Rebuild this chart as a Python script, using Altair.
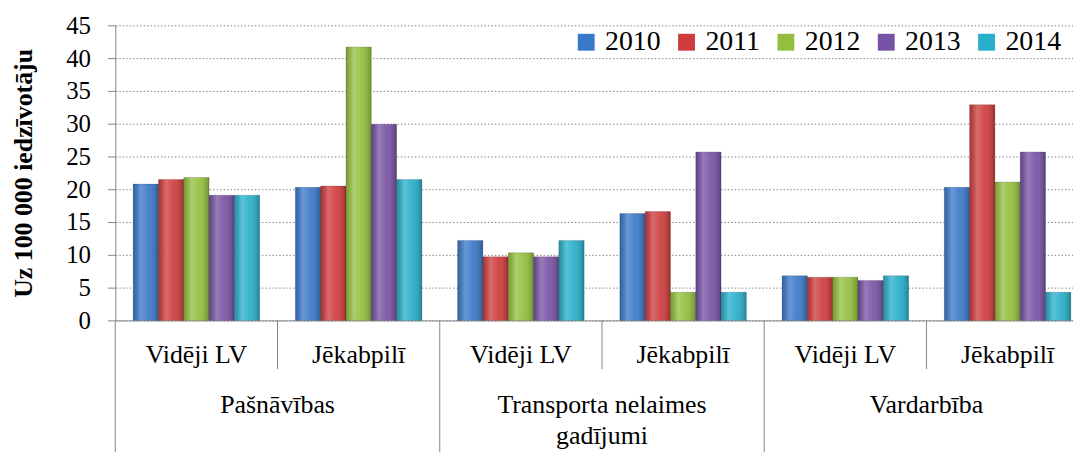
import altair as alt
import pandas as pd

# ---------------- data ----------------
groups = ["Pašnāvības", "Transporta nelaimes gadījumi", "Vardarbība"]
group_labels = ["Pašnāvības", "Transporta nelaimes\ngadījumi", "Vardarbība"]
subgroups = ["Vidēji LV", "Jēkabpilī"]
years = ["2010", "2011", "2012", "2013", "2014"]

pasnavibas_lv = [20.8, 21.5, 21.8, 19.1, 19.1]
pasnavibas_jek = [20.3, 20.5, 41.7, 29.9, 21.5]
transports_lv = [12.2, 9.7, 10.3, 9.7, 12.2]
transports_jek = [16.3, 16.6, 4.3, 25.7, 4.3]
vardarbiba_lv = [6.8, 6.6, 6.6, 6.1, 6.8]
vardarbiba_jek = [20.3, 32.9, 21.1, 25.7, 4.3]

series = [
    [pasnavibas_lv, pasnavibas_jek],
    [transports_lv, transports_jek],
    [vardarbiba_lv, vardarbiba_jek],
]

colors = ["#3a78c8", "#cf3c3c", "#94bf3e", "#7852a4", "#28afca"]

rows = []
for gi, g in enumerate(groups):
    for si, s in enumerate(subgroups):
        for k, y in enumerate(years):
            rows.append({"group": g, "sub": s, "slot": gi * 2 + si, "k": k,
                         "year": y, "value": series[gi][si][k]})
df = pd.DataFrame(rows)

n_slots = len(groups) * len(subgroups)
sep_df = pd.DataFrame({"b": list(range(n_slots)),
                       "long": [i % 2 == 0 for i in range(n_slots)]})
sub_df = pd.DataFrame({"c": [i + 0.5 for i in range(n_slots)],
                       "label": [subgroups[i % 2] for i in range(n_slots)]})
grp_df = pd.DataFrame({"c": [gi * 2 + 1 for gi in range(len(groups))],
                       "label": group_labels})

# ---------------- layout ----------------
W, H = 964, 297
SLOT_PX = 163.3
XMAX = W / SLOT_PX
PAD, BW = 0.11, 0.156
GRAY = "#868686"
FONT = "Liberation Serif, Times New Roman, serif"

xscale = alt.Scale(domain=[0, XMAX], nice=False, zero=False)
xaxis = alt.Axis(labels=False, ticks=False, grid=False, domain=True,
                 domainColor=GRAY, domainWidth=1, title=None)
yscale = alt.Scale(domain=[0, 45], nice=False)
yaxis = alt.Axis(values=list(range(0, 46, 5)), grid=True, gridColor=GRAY,
                 gridDash=[1.5, 2], gridWidth=1, domainColor=GRAY,
                 tickColor=GRAY, tickSize=8, labelPadding=17,
                 labelFont=FONT, labelFontSize=25, labelColor="black",
                 title="Uz 100 000 iedzīvotāju", titleFont=FONT,
                 titleFontSize=26, titleFontWeight="bold", titleColor="black",
                 titleAngle=-90, titleX=-92, titleY=H / 2,
                 titleAlign="center", titleBaseline="middle")

base = alt.Chart(df).transform_calculate(
    xs=f"datum.slot + {PAD} + datum.k * {BW}",
    xe=f"datum.slot + {PAD} + (datum.k + 1) * {BW}",
)

bars = base.mark_rect(stroke="rgba(0,0,0,0.25)", strokeWidth=0.6).encode(
    x=alt.X("xs:Q", scale=xscale, axis=xaxis),
    x2="xe:Q",
    y=alt.Y("value:Q", scale=yscale, axis=yaxis),
    y2=alt.datum(0),
    color=alt.Color("year:N", scale=alt.Scale(domain=years, range=colors),
                    legend=alt.Legend(title=None, orient="none", legendX=460,
                                      legendY=3, direction="horizontal",
                                      symbolType="square", symbolSize=289,
                                      symbolStrokeWidth=0, labelFont=FONT,
                                      labelFontSize=28, labelColor="black",
                                      labelOffset=5, columnPadding=12,
                                      padding=0)),
)

shade = base.mark_rect(
    fill=alt.Gradient(
        gradient="linear", x1=0, x2=1, y1=0, y2=0,
        stops=[
            alt.GradientStop(color="rgba(0,0,0,0.18)", offset=0),
            alt.GradientStop(color="rgba(255,255,255,0.24)", offset=0.3),
            alt.GradientStop(color="rgba(255,255,255,0.08)", offset=0.6),
            alt.GradientStop(color="rgba(0,0,0,0.25)", offset=1),
        ],
    )
).encode(
    x=alt.X("xs:Q", scale=xscale, axis=xaxis),
    x2="xe:Q",
    y=alt.Y("value:Q", scale=yscale, axis=yaxis),
    y2=alt.datum(0),
)

short_sep = alt.Chart(sep_df).transform_filter("!datum.long").mark_rule(
    color=GRAY, strokeWidth=1).encode(
    x=alt.X("b:Q", scale=xscale, axis=xaxis),
    y=alt.value(H), y2=alt.value(H + 49))

long_sep = alt.Chart(sep_df).transform_filter("datum.long").mark_rule(
    color=GRAY, strokeWidth=1).encode(
    x=alt.X("b:Q", scale=xscale, axis=xaxis),
    y=alt.value(H), y2=alt.value(H + 140))

sub_text = alt.Chart(sub_df).mark_text(
    font=FONT, fontSize=26, color="black", align="center",
    baseline="alphabetic").encode(
    x=alt.X("c:Q", scale=xscale, axis=xaxis),
    y=alt.value(340), text="label:N")

grp_text = alt.Chart(grp_df).mark_text(
    font=FONT, fontSize=26, color="black", align="center",
    baseline="alphabetic", lineBreak="\n", lineHeight=31).encode(
    x=alt.X("c:Q", scale=xscale, axis=xaxis),
    y=alt.value(390), text="label:N")

chart = alt.layer(bars, shade, short_sep, long_sep, sub_text, grp_text).properties(
    width=W, height=H,
    padding={"left": 108, "top": 16, "right": 0, "bottom": 131},
    autosize=alt.AutoSizeParams(type="none"),
).configure_view(stroke=None).configure_axis(
    labelFont=FONT, titleFont=FONT
).configure_legend(labelFont=FONT).configure_text(font=FONT)

chart.save("out.html", embed_options={"renderer": "svg", "actions": False})
